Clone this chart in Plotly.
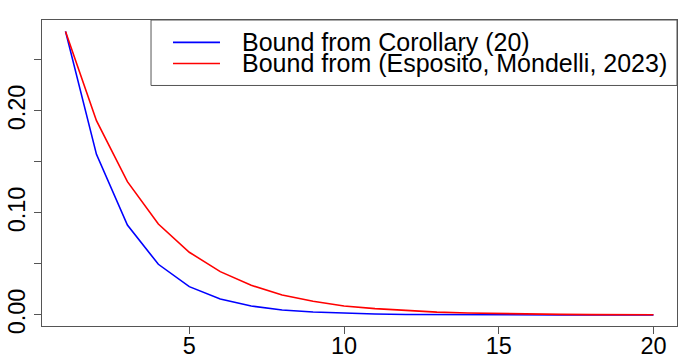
import plotly.graph_objects as go

# step index
steps = list(range(1, 21))

# bound values
corollary_bound = [0.278, 0.1575, 0.0882, 0.0497, 0.0278, 0.0157, 0.0088, 0.0049, 0.0029, 0.0016,
                   0.0009, 0.0005, 0.0003, 0.00016, 0.00009, 0.00005, 0.00003, 0.00002, 0.00001, 0.00001]
esposito_bound = [0.278, 0.1905, 0.1307, 0.0892, 0.0615, 0.0425, 0.0291, 0.0196, 0.0134, 0.0088,
                  0.0062, 0.0042, 0.0028, 0.0019, 0.0013, 0.0009, 0.0006, 0.0004, 0.0003, 0.0002]

series_names = ["Bound from Corollary (20)", "Bound from (Esposito, Mondelli, 2023)"]
series_colors = ["#0000ff", "#ff0000"]

y_tickvals = [0.0, 0.05, 0.10, 0.15, 0.20, 0.25]
y_ticktext = ["0.00", "", "0.10", "", "0.20", ""]
x_tickvals = [5, 10, 15, 20]

FONT = "Liberation Sans, Arial, sans-serif"

fig = go.Figure()
for ys, name, col in zip([corollary_bound, esposito_bound], series_names, series_colors):
    fig.add_trace(go.Scatter(x=steps, y=ys, mode="lines", name=name,
                             line=dict(color=col, width=1.6), showlegend=False))

axis_style = dict(showline=True, mirror=True, linecolor="#555555", linewidth=1,
                  ticks="outside", ticklen=7, tickcolor="#555555", showgrid=False,
                  zeroline=False, automargin=False,
                  tickfont=dict(family=FONT, size=23.5, color="black"))

fig.update_xaxes(range=[0.24, 20.76], tickvals=x_tickvals, ticklabelstandoff=-8, **axis_style)
fig.update_yaxes(range=[-0.0108, 0.2892], tickvals=y_tickvals, ticktext=y_ticktext,
                 tickangle=-90, **axis_style)

# hand-drawn legend box, R style
shapes = [dict(type="rect", xref="paper", yref="paper", x0=0.1717, x1=1.0, y0=0.786, y1=1.0,
               line=dict(color="#555555", width=1), fillcolor="white")]
legend_y = [0.927, 0.858]
annotations = []
for ly, name, col in zip(legend_y, series_names, series_colors):
    shapes.append(dict(type="line", xref="paper", yref="paper", x0=0.2063, x1=0.2803,
                       y0=ly, y1=ly, line=dict(color=col, width=1.6)))
    annotations.append(dict(xref="paper", yref="paper", x=0.312, y=ly, xanchor="left",
                            yanchor="middle", text=name, showarrow=False,
                            font=dict(family=FONT, size=25, color="black")))

fig.update_layout(width=685, height=364, margin=dict(l=42, r=8, t=20, b=38),
                  plot_bgcolor="white", paper_bgcolor="white",
                  shapes=shapes, annotations=annotations)

fig.write_html("out.html", config={"displayModeBar": False},
               post_script="document.body.style.margin='0';")
